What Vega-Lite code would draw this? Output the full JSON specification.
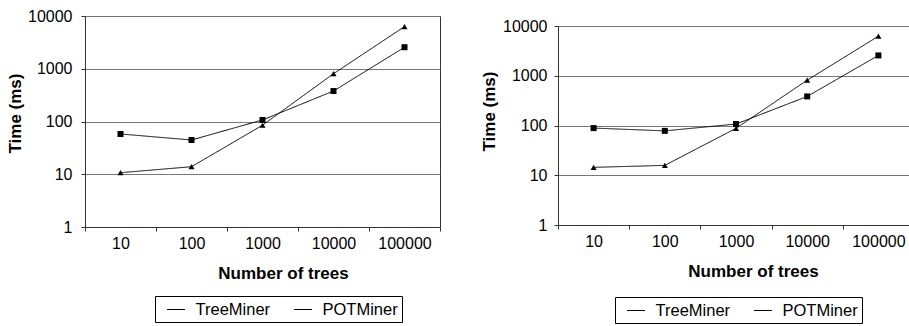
{
  "$schema": "https://vega.github.io/schema/vega-lite/v6.json",
  "datasets": {
    "d": [
      {"panel": "a", "series": "TreeMiner", "trees": "10", "time": 10.7},
      {"panel": "a", "series": "TreeMiner", "trees": "100", "time": 13.9},
      {"panel": "a", "series": "TreeMiner", "trees": "1000", "time": 85},
      {"panel": "a", "series": "TreeMiner", "trees": "10000", "time": 805},
      {"panel": "a", "series": "TreeMiner", "trees": "100000", "time": 6300},
      {"panel": "a", "series": "POTMiner", "trees": "10", "time": 58},
      {"panel": "a", "series": "POTMiner", "trees": "100", "time": 44.6},
      {"panel": "a", "series": "POTMiner", "trees": "1000", "time": 107},
      {"panel": "a", "series": "POTMiner", "trees": "10000", "time": 378},
      {"panel": "a", "series": "POTMiner", "trees": "100000", "time": 2560},
      {"panel": "b", "series": "TreeMiner", "trees": "10", "time": 14.4},
      {"panel": "b", "series": "TreeMiner", "trees": "100", "time": 15.8},
      {"panel": "b", "series": "TreeMiner", "trees": "1000", "time": 87.7},
      {"panel": "b", "series": "TreeMiner", "trees": "10000", "time": 815},
      {"panel": "b", "series": "TreeMiner", "trees": "100000", "time": 6240},
      {"panel": "b", "series": "POTMiner", "trees": "10", "time": 88.7},
      {"panel": "b", "series": "POTMiner", "trees": "100", "time": 78},
      {"panel": "b", "series": "POTMiner", "trees": "1000", "time": 107},
      {"panel": "b", "series": "POTMiner", "trees": "10000", "time": 384},
      {"panel": "b", "series": "POTMiner", "trees": "100000", "time": 2560}
    ]
  },
  "data": {"name": "d"},
  "padding": {"left": 5, "top": 7, "right": 5, "bottom": 5},
  "config": {
    "font": "Liberation Sans",
    "view": {"stroke": "#333", "strokeWidth": 1},
    "axis": {
      "labelFont": "Liberation Sans", "labelFontSize": 16, "labelColor": "#000",
      "titleFont": "Liberation Sans", "titleFontSize": 17, "titleFontWeight": "bold", "titleColor": "#000",
      "domainColor": "#333", "tickColor": "#333", "gridColor": "#777"
    },
    "legend": {
      "orient": "none", "direction": "horizontal", "title": null, "padding": 4,
      "labelFontSize": 16.5, "labelFont": "Liberation Sans", "labelColor": "#000",
      "columnPadding": 15, "strokeColor": "#000",
      "symbolType": "stroke", "symbolSize": 324, "symbolStrokeWidth": 1, "symbolStrokeColor": "#000",
      "symbolOffset": 7.5, "labelOffset": 10
    }
  },
  "spacing": 38,
  "resolve": {
    "legend": {"shape": "independent", "strokeDash": "independent"},
    "scale": {"shape": "independent", "strokeDash": "independent"}
  },
  "hconcat": [
    {
      "width": 355, "height": 211,
      "transform": [{"filter": "datum.panel == 'a'"}],
      "encoding": {
        "x": {"field": "trees", "type": "ordinal", "sort": ["10", "100", "1000", "10000", "100000"],
          "scale": {"type": "band", "paddingInner": 0, "paddingOuter": 0},
          "axis": {"title": "Number of trees", "labelAngle": 0, "tickBand": "extent", "tickSize": 4, "labelPadding": 4, "grid": false, "titleX": 198, "titleY": 46, "titleBaseline": "middle"}},
        "y": {"field": "time", "type": "quantitative",
          "scale": {"type": "log", "domain": [1, 10000], "nice": false},
          "axis": {"values": [1, 10, 100, 1000, 10000], "format": "d", "title": "Time (ms)", "tickSize": 4, "labelPadding": 9, "grid": true, "titleX": -70, "titleY": 97, "titleBaseline": "middle"}}
      },
      "layer": [
        {"mark": {"type": "line", "color": "#000", "strokeWidth": 1},
          "encoding": {"strokeDash": {"field": "series", "type": "nominal",
            "scale": {"domain": ["TreeMiner", "POTMiner"], "range": [[1, 0], [1, 0]]},
            "legend": {"legendX": 70, "legendY": 280}}}},
        {"mark": {"type": "point", "filled": true, "color": "#000", "opacity": 1, "size": 36},
          "encoding": {"shape": {"field": "series", "type": "nominal", "sort": ["TreeMiner", "POTMiner"],
            "scale": {"range": ["triangle-up", "square"]}, "legend": null}}}
      ]
    },
    {
      "spacing": 0,
      "resolve": {
        "legend": {"shape": "independent", "strokeDash": "independent"},
        "scale": {"shape": "independent", "strokeDash": "independent"}
      },
      "vconcat": [
        {"width": 356, "height": 1, "data": {"values": []}, "mark": "point", "encoding": {}, "view": {"stroke": null}},
        {
          "width": 356, "height": 199,
          "transform": [{"filter": "datum.panel == 'b'"}],
          "encoding": {
            "x": {"field": "trees", "type": "ordinal", "sort": ["10", "100", "1000", "10000", "100000"],
              "scale": {"type": "band", "paddingInner": 0, "paddingOuter": 0},
              "axis": {"title": "Number of trees", "labelAngle": 0, "tickBand": "extent", "tickSize": 4, "labelPadding": 4, "grid": false, "titleX": 195, "titleY": 46, "titleBaseline": "middle"}},
            "y": {"field": "time", "type": "quantitative",
              "scale": {"type": "log", "domain": [1, 10000], "nice": false},
              "axis": {"values": [1, 10, 100, 1000, 10000], "format": "d", "title": "Time (ms)", "tickSize": 4, "labelPadding": 7, "grid": true, "titleX": -69, "titleY": 85, "titleBaseline": "middle"}}
          },
          "layer": [
            {"mark": {"type": "line", "color": "#000", "strokeWidth": 1},
              "encoding": {"strokeDash": {"field": "series", "type": "nominal",
                "scale": {"domain": ["TreeMiner", "POTMiner"], "range": [[1, 0], [1, 0]]},
                "legend": {"legendX": 57, "legendY": 271}}}},
            {"mark": {"type": "point", "filled": true, "color": "#000", "opacity": 1, "size": 36},
              "encoding": {"shape": {"field": "series", "type": "nominal", "sort": ["TreeMiner", "POTMiner"],
                "scale": {"range": ["triangle-up", "square"]}, "legend": null}}}
          ]
        }
      ]
    }
  ]
}
